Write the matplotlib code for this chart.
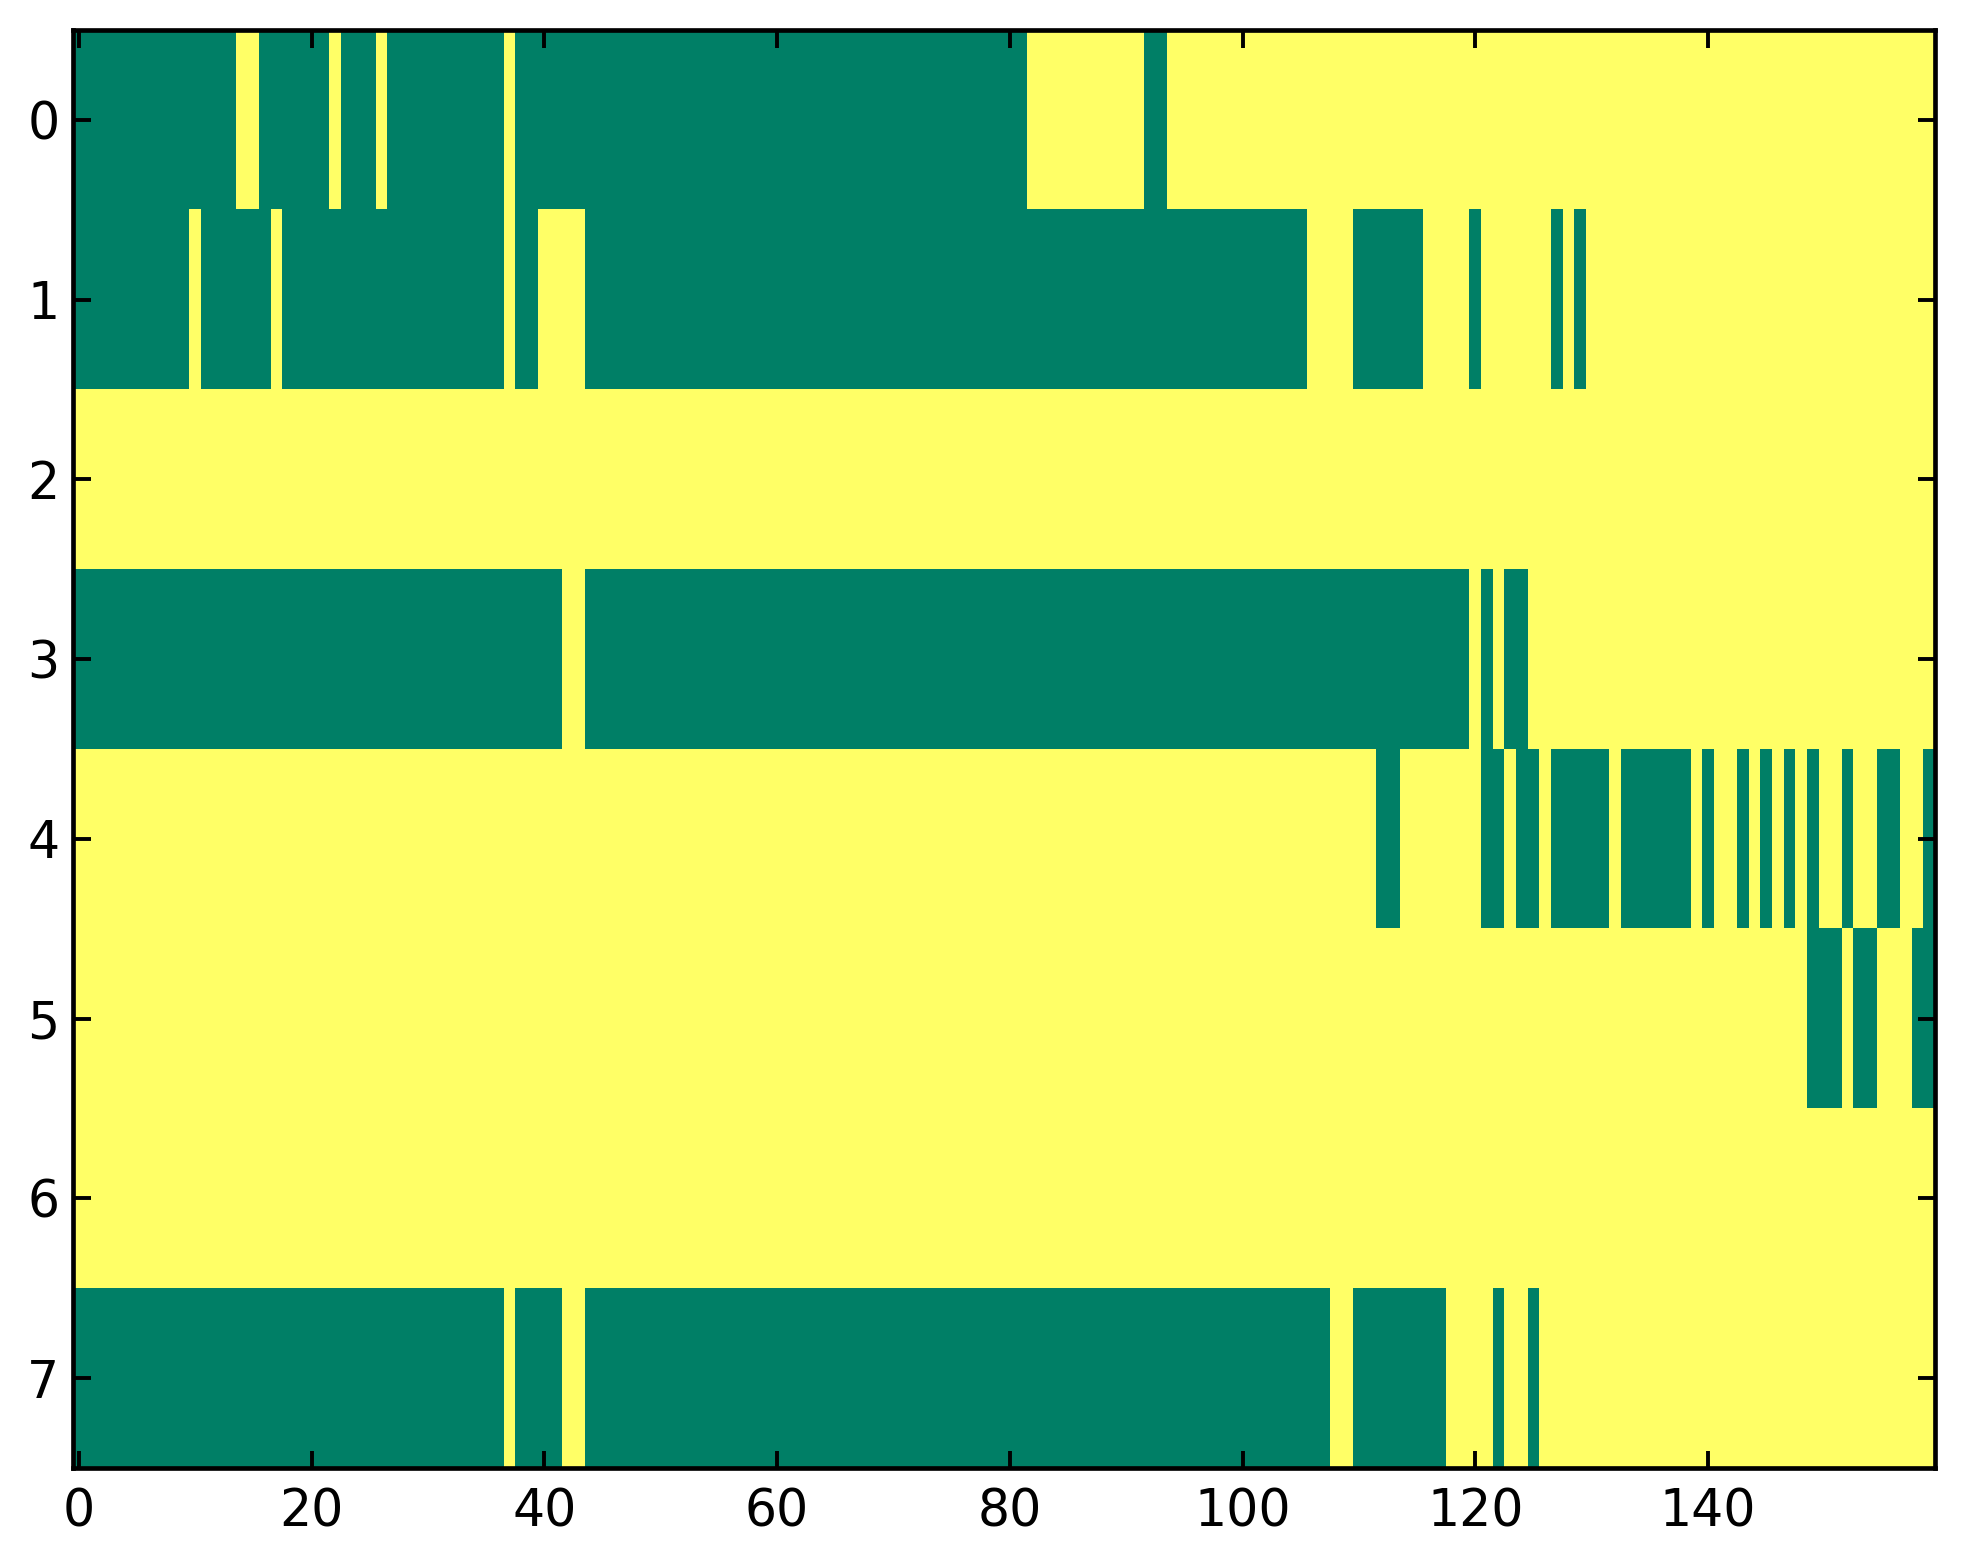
import numpy as np
import matplotlib
matplotlib.use('Agg')
import matplotlib.pyplot as plt

n_rows = 8
n_cols = 160

# green (value 0) column spans per row, inclusive; everything else is yellow (1)
row0_green = [(0, 13), (16, 21), (23, 25), (27, 36), (38, 81), (92, 93)]
row1_green = [(0, 9), (11, 16), (18, 36), (38, 39), (44, 105), (110, 115),
              (120, 120), (127, 127), (129, 129)]
row2_green = []
row3_green = [(0, 41), (44, 119), (121, 121), (123, 124)]
row4_green = [(112, 113), (121, 122), (124, 125), (127, 131), (133, 138),
              (140, 140), (143, 143), (145, 145), (147, 147), (149, 149),
              (152, 152), (155, 156), (159, 159)]
row5_green = [(149, 151), (153, 154), (158, 159)]
row6_green = []
row7_green = [(0, 36), (38, 41), (44, 107), (110, 117), (122, 122), (125, 125)]

x_ticks = [0, 20, 40, 60, 80, 100, 120, 140]
y_ticks = [0, 1, 2, 3, 4, 5, 6, 7]

all_rows = [row0_green, row1_green, row2_green, row3_green,
            row4_green, row5_green, row6_green, row7_green]

grid = np.ones((n_rows, n_cols))
for r, spans in enumerate(all_rows):
    for start, stop in spans:
        grid[r, start:stop + 1] = 0

W, H, DPI = 1963, 1564, 280
fig = plt.figure(figsize=(W / DPI, H / DPI), dpi=DPI)
ax = fig.add_axes([73 / W, 1 - 1468 / H, (1935 - 73) / W, (1468 - 30) / H])

ax.imshow(grid, cmap='summer', vmin=0, vmax=1, aspect='auto',
          interpolation='nearest')

ax.set_xticks(x_ticks)
ax.set_yticks(y_ticks)
ax.tick_params(direction='in', top=True, right=True, length=4.5, width=1.0,
               labelsize=13)
ax.tick_params(axis='x', pad=5)
ax.tick_params(axis='y', pad=3.5)
for spine in ax.spines.values():
    spine.set_linewidth(1.2)

fig.savefig('out.png', dpi=DPI)
